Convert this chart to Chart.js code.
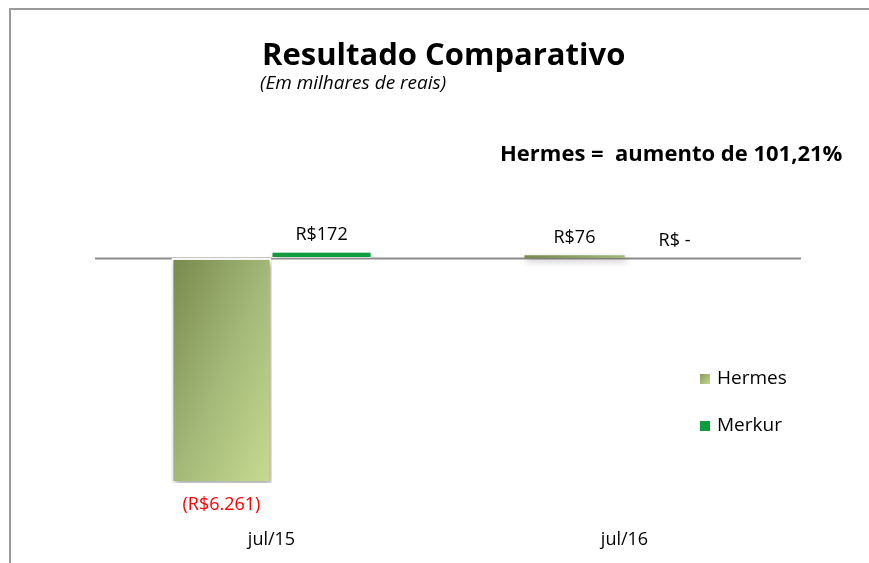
<!DOCTYPE html>
<html>
<head>
<meta charset="utf-8">
<script src="https://cdn.jsdelivr.net/npm/chart.js@4"></script>
<style>
  html, body { margin: 0; padding: 0; background: #fff; }
  #wrap { width: 869px; height: 563px; position: relative; }
</style>
</head>
<body>
<div id="wrap"><canvas id="resultChart"></canvas></div>
<script>
// Data
const categories = ['jul/15', 'jul/16'];
const hermesValues = [-6261, 76];
const merkurValues = [172, 0];
const seriesNames = ['Hermes', 'Merkur'];

const FONT = '"Open Sans", sans-serif';

// R$ formatting like the Excel source: (R$6.261), R$172, R$ -
function formatReais(v) {
    if (v === 0) return 'R$ -';
    const s = 'R$' + Math.abs(v).toLocaleString('de-DE');
    return v < 0 ? '(' + s + ')' : s;
}

// Diagonal olive gradient for the Hermes bars (dark top-left, light bottom-right)
function hermesFill(context) {
    const chart = context.chart;
    if (!chart.chartArea) return '#9fb46f';
    const x = chart.scales.x.getPixelForValue(context.dataIndex) - 100;
    const y = Math.min(chart.scales.y.getPixelForValue(0), chart.scales.y.getPixelForValue(context.raw));
    const g = chart.ctx.createLinearGradient(x, y, x + 167, y + 74);
    g.addColorStop(0, '#77894c');
    g.addColorStop(0.5, '#a3b878');
    g.addColorStop(1, '#c7db91');
    return g;
}

// Frame, titles, zero line, shadow, labels and legend
const decorPlugin = {
    id: 'decor',
    beforeDraw(chart) {
        const ctx = chart.ctx;
        ctx.save();
        ctx.strokeStyle = '#9a9a9a';
        ctx.lineWidth = 2;
        ctx.beginPath();
        ctx.moveTo(10, 563);
        ctx.lineTo(10, 9);
        ctx.lineTo(869, 9);
        ctx.stroke();

        ctx.fillStyle = '#000';
        ctx.textBaseline = 'alphabetic';
        ctx.textAlign = 'left';
        ctx.font = 'bold 31px ' + FONT;
        ctx.fillText('Resultado Comparativo', 262, 65, 365);
        ctx.font = 'italic 19px ' + FONT;
        ctx.fillText('(Em milhares de reais)', 260, 89, 192);
        ctx.font = 'bold 22px ' + FONT;
        ctx.fillText('Hermes =  aumento de 101,21%', 500, 161, 350);
        ctx.restore();
    },
    beforeDatasetsDraw(chart) {
        const ctx = chart.ctx;
        const area = chart.chartArea;
        const y0 = Math.round(chart.scales.y.getPixelForValue(0)) + 0.5;
        ctx.save();
        ctx.strokeStyle = '#8c8c8c';
        ctx.lineWidth = 2;
        ctx.beginPath();
        ctx.moveTo(area.left, y0);
        ctx.lineTo(area.right, y0);
        ctx.stroke();
        ctx.restore();

        ctx.save();
        ctx.shadowColor = 'rgba(0, 0, 0, 0.35)';
        ctx.shadowBlur = 6;
        ctx.shadowOffsetX = 2;
        ctx.shadowOffsetY = 3;
    },
    afterDatasetsDraw(chart) {
        const ctx = chart.ctx;
        ctx.restore();

        // value labels
        ctx.save();
        ctx.font = '18px ' + FONT;
        ctx.textAlign = 'center';
        chart.data.datasets.forEach((ds, di) => {
            const meta = chart.getDatasetMeta(di);
            meta.data.forEach((bar, i) => {
                const v = ds.data[i];
                if (v < 0) {
                    ctx.fillStyle = '#ff0000';
                    ctx.textBaseline = 'top';
                    ctx.fillText(formatReais(v), bar.x, bar.y + 13);
                } else {
                    ctx.fillStyle = '#000';
                    ctx.textBaseline = 'bottom';
                    ctx.fillText(formatReais(v), bar.x, Math.min(bar.y, bar.base) - 8);
                }
            });
        });

        // legend
        ctx.textAlign = 'left';
        ctx.textBaseline = 'middle';
        ctx.font = '19px ' + FONT;
        const legendY = [379, 426];
        chart.data.datasets.forEach((ds, di) => {
            const y = legendY[di];
            if (di === 0) {
                const g = ctx.createLinearGradient(700, y - 5, 710, y + 5);
                g.addColorStop(0, '#8a9c5e');
                g.addColorStop(1, '#c2d68c');
                ctx.fillStyle = g;
            } else {
                ctx.fillStyle = ds.backgroundColor;
            }
            ctx.fillRect(700, y - 5, 10, 10);
            ctx.fillStyle = '#000';
            ctx.fillText(ds.label, 717, y);
        });
        ctx.restore();
    }
};

new Chart(document.getElementById('resultChart'), {
    type: 'bar',
    data: {
        labels: categories,
        datasets: [{
            label: seriesNames[0],
            data: hermesValues,
            backgroundColor: hermesFill,
            borderColor: '#ffffff',
            borderWidth: ctx => Math.abs(ctx.raw) > 1000 ? 2 : 0,
            borderSkipped: false
        }, {
            label: seriesNames[1],
            data: merkurValues,
            backgroundColor: '#0f9c3c',
            borderColor: '#ffffff',
            borderWidth: 1,
            borderSkipped: false
        }]
    },
    options: {
        responsive: true,
        maintainAspectRatio: false,
        animation: false,
        layout: {
            padding: { left: 95, right: 68, top: 222, bottom: 10 }
        },
        datasets: {
            bar: {
                barPercentage: 1,
                categoryPercentage: 0.567
            }
        },
        plugins: {
            legend: { display: false },
            tooltip: { enabled: false }
        },
        scales: {
            x: {
                grid: { display: false, drawTicks: false },
                border: { display: false },
                afterFit: scale => { scale.height = 70; },
                ticks: {
                    color: '#000',
                    padding: 46,
                    font: { family: FONT, size: 18 }
                }
            },
            y: {
                display: false,
                min: -6261,
                max: 1000
            }
        }
    },
    plugins: [decorPlugin]
});
</script>
</body>
</html>
